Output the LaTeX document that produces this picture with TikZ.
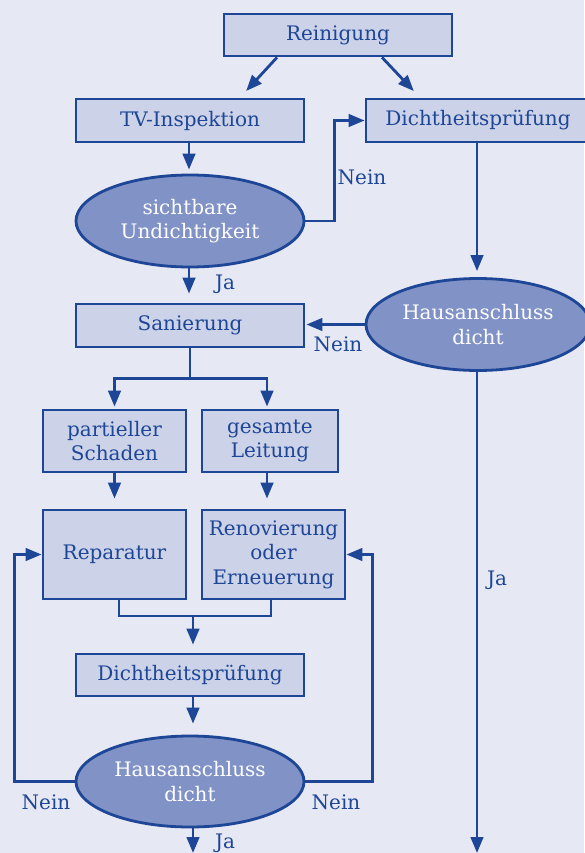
\documentclass[tikz,border=0pt]{standalone}
\usepackage{fontspec}
\setmainfont{DejaVu Serif}
\usetikzlibrary{arrows.meta,calc,shapes.geometric}
\definecolor{bgc}{HTML}{E6E8F4}
\definecolor{linec}{HTML}{1E4696}
\definecolor{boxc}{HTML}{CCD2E8}
\definecolor{ellc}{HTML}{8092C6}
\tikzset{
  boxn/.style={draw=linec, fill=boxc, line width=2.8pt, text=linec, align=center,
    inner sep=0pt, font=\fontsize{20}{24.5}\selectfont},
  elln/.style={draw=linec, fill=ellc, line width=2.8pt, text=white, align=center,
    ellipse, inner sep=0pt, font=\fontsize{20}{24.5}\selectfont},
  arr/.style={draw=linec, line width=2.8pt, -{Triangle[length=16pt,width=12.5pt]}},
  ln/.style={draw=linec, line width=2.8pt},
  lbl/.style={text=linec, font=\fontsize{20}{24}\selectfont, inner sep=0pt}
}
\begin{document}
\begin{tikzpicture}[x=1pt,y=-1pt]
\useasboundingbox (0,0) rectangle (584,853);
\fill[bgc] (0,0) rectangle (584,853);
% nodes
\node[boxn, minimum width=228pt, minimum height=42pt] (rein) at (338,35) {Reinigung};
\node[boxn, minimum width=228pt, minimum height=43pt] (tv) at (190,120.5) {TV-Inspektion};
\node[boxn, minimum width=224pt, minimum height=43pt] (d1) at (478,120.5) {Dichtheitsprüfung};
\node[elln, minimum width=228pt, minimum height=92pt] (e1) at (190,221) {sichtbare\\Undichtigkeit};
\node[boxn, minimum width=228pt, minimum height=43pt] (san) at (190,325.5) {Sanierung};
\node[elln, minimum width=224pt, minimum height=92pt] (e2) at (478,324.5) {Hausanschluss\\dicht};
\node[boxn, minimum width=143pt, minimum height=62pt] (part) at (114.5,441) {partieller\\Schaden};
\node[boxn, minimum width=136pt, minimum height=62pt] (ges) at (270,441) {gesamte\\Leitung};
\node[boxn, minimum width=143pt, minimum height=89pt] (rep) at (114.5,554.5) {Reparatur};
\node[boxn, minimum width=143pt, minimum height=89pt] (ren) at (273.5,554.5) {Renovierung\\oder\\Erneuerung};
\node[boxn, minimum width=228pt, minimum height=42pt] (d2) at (190,675) {Dichtheitsprüfung};
\node[elln, minimum width=228pt, minimum height=91pt] (e3) at (190,781.5) {Hausanschluss\\dicht};
\coordinate (end2) at (477,853);
\coordinate (end3) at (193,853);
\coordinate (join) at (193,616);
% connectors
\draw[arr, shorten >=9pt] ([xshift=-61pt]rein.south) -- ([xshift=50pt]tv.north);
\draw[arr, shorten >=9pt] ([xshift=44pt]rein.south) -- ([xshift=-58pt]d1.north);
\draw[arr, shorten >=4pt] ([xshift=-1pt]tv.south) -- ([xshift=-1pt]e1.north);
\draw[arr] (e1.east) -- ++(29,0) |- (d1.west);
\draw[arr, shorten >=9pt] ([xshift=-1pt]e1.south) -- ([xshift=-1pt]san.north);
\draw[arr, shorten >=6pt] ([xshift=-1pt]d1.south) -- ([xshift=-1pt]e2.north);
\draw[arr, shorten >=1pt] (e2.west) -- (e2.west -| san.east);
\draw[arr] ([xshift=-1pt]e2.south) -- (end2);
\draw[arr, shorten >=2pt] (san.south) -- ++(0,30) -| (part.north);
\draw[arr, shorten >=2pt] (san.south) -- ++(0,30) -| ([xshift=-3pt]ges.north);
\draw[arr, shorten >=10pt] (part.south) -- (part.north |- rep.north);
\draw[arr, shorten >=10pt] ([xshift=-3pt]ges.south) -- ([xshift=-3pt]ges.south |- ren.north);
\draw[ln] ([xshift=4.5pt]rep.south) |- (join) -| ([xshift=-2.5pt]ren.south);
\draw[arr, shorten >=8pt] (join) -- (join |- d2.north);
\draw[arr, shorten >=11pt] ([xshift=3pt]d2.south) -- ([xshift=3pt]e3.north);
\draw[arr] (e3.west) -- ++(-60,0) |- (rep.west);
\draw[arr] (e3.east) -- ++(67,0) |- (ren.east);
\draw[arr] ([xshift=3pt]e3.south) -- (end3);
% labels
\node[lbl] (l1) at (362,177) {Nein};
\node[lbl] (l2) at (225,284) {Ja};
\node[lbl] (l3) at (338,344) {Nein};
\node[lbl] (l4) at (497,580) {Ja};
\node[lbl] (l5) at (46,802) {Nein};
\node[lbl] (l6) at (336,802) {Nein};
\node[lbl] (l7) at (225,843) {Ja};
\end{tikzpicture}
\end{document}
